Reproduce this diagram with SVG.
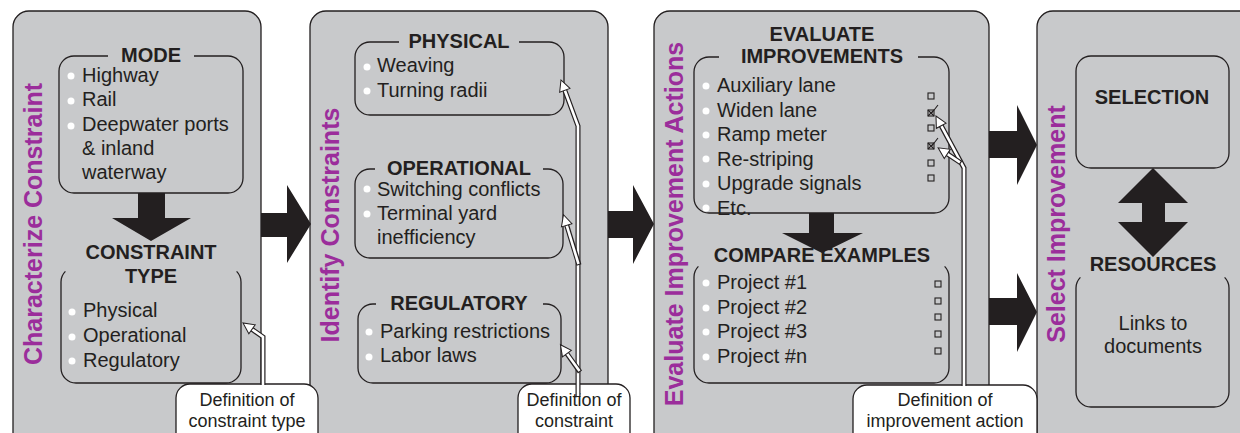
<svg xmlns="http://www.w3.org/2000/svg" width="1240" height="433" viewBox="0 0 1240 433">
<defs>
<style>
.panel{fill:#c8c9cb;stroke:#231f20;stroke-width:1.3}
.box{fill:none;stroke:#231f20;stroke-width:1.3}
.big{fill:#231f20}
.title{font-family:"Liberation Sans",Arial,sans-serif;font-size:25px;font-weight:bold;fill:#9b2d9b;text-anchor:middle}
.hd{font-family:"Liberation Sans",Arial,sans-serif;font-size:20px;font-weight:bold;fill:#231f20;text-anchor:middle}
.it{font-family:"Liberation Sans",Arial,sans-serif;font-size:20px;fill:#231f20}
.itc{font-family:"Liberation Sans",Arial,sans-serif;font-size:20px;fill:#231f20;text-anchor:middle}
.co{fill:#ffffff;stroke:#231f20;stroke-width:1.3}
.cot{font-family:"Liberation Sans",Arial,sans-serif;font-size:18px;fill:#231f20;text-anchor:middle}
.dot{fill:#ffffff}
.cb{fill:none;stroke:#231f20;stroke-width:1.1}
.cout{fill:none;stroke:#231f20;stroke-width:5;stroke-linejoin:miter}
.cin{fill:none;stroke:#ffffff;stroke-width:2.6;stroke-linejoin:miter}
</style>
<marker id="hollow" markerWidth="16" markerHeight="14" refX="0" refY="6" orient="auto" markerUnits="userSpaceOnUse" viewBox="-2 0 16 12" overflow="visible">
<path d="M0,0.5 L11,6 L0,11.5 Z" fill="#ffffff" stroke="#231f20" stroke-width="1"/>
</marker>
</defs>
<rect width="1240" height="433" fill="#ffffff"/>

<!-- Panel 1 -->
<g id="panel-characterize">
<rect class="panel" x="13" y="11" width="248" height="440" rx="16"/>
<text class="title" transform="translate(42,224) rotate(-90)">Characterize Constraint</text>
</g>
<g id="panel-identify">
<rect class="panel" x="310" y="11" width="298" height="440" rx="16"/>
<text class="title" transform="translate(339,225) rotate(-90)">Identify Constraints</text>
</g>
<g id="panel-evaluate">
<rect class="panel" x="654" y="11" width="335" height="440" rx="16"/>
<text class="title" transform="translate(683,224) rotate(-90)">Evaluate Improvement Actions</text>
</g>
<g id="panel-select">
<rect class="panel" x="1037" y="11" width="220" height="440" rx="16"/>
<text class="title" transform="translate(1065,224) rotate(-90)">Select Improvement</text>
</g>

<!-- MODE -->
<g id="mode">
<path class="box" d="M108,56 L74,56 A15,15 0 0 0 59,71 L59,178 A15,15 0 0 0 74,193 L228,193 A15,15 0 0 0 243,178 L243,71 A15,15 0 0 0 228,56 L194,56"/>
<text class="hd" x="151" y="62">MODE</text>
<circle class="dot" cx="71" cy="76" r="3.5"/>
<circle class="dot" cx="71" cy="101" r="3.5"/>
<circle class="dot" cx="71" cy="126" r="3.5"/>
<text class="it" x="82" y="82">Highway</text>
<text class="it" x="82" y="106">Rail</text>
<text class="it" x="82" y="131">Deepwater ports</text>
<text class="it" x="82" y="155">&amp; inland</text>
<text class="it" x="82" y="179">waterway</text>
</g>

<g id="constraint-type">
<path class="box" d="M65.4,271.4 A15,15 0 0 0 61,282 L61,368 A15,15 0 0 0 76,383 L226,383 A15,15 0 0 0 241,368 L241,282 A15,15 0 0 0 236.6,271.4"/>
<text class="hd" x="151" y="259">CONSTRAINT</text>
<text class="hd" x="151" y="283">TYPE</text>
<circle class="dot" cx="72" cy="312" r="3.5"/>
<circle class="dot" cx="72" cy="337" r="3.5"/>
<circle class="dot" cx="72" cy="361" r="3.5"/>
<text class="it" x="83" y="317">Physical</text>
<text class="it" x="83" y="342">Operational</text>
<text class="it" x="83" y="367">Regulatory</text>
</g>

<g id="physical">
<path class="box" d="M399,42 L370,42 A15,15 0 0 0 355,57 L355,100 A15,15 0 0 0 370,115 L549,115 A15,15 0 0 0 564,100 L564,57 A15,15 0 0 0 549,42 L519,42"/>
<text class="hd" x="459" y="48">PHYSICAL</text>
<circle class="dot" cx="367" cy="67" r="3.5"/>
<circle class="dot" cx="367" cy="91" r="3.5"/>
<text class="it" x="377" y="72">Weaving</text>
<text class="it" x="377" y="97">Turning radii</text>
</g>

<g id="operational">
<path class="box" d="M375,169 L370,169 A15,15 0 0 0 355,184 L355,243 A15,15 0 0 0 370,258 L548,258 A15,15 0 0 0 563,243 L563,184 A15,15 0 0 0 548,169 L543,169"/>
<text class="hd" x="459" y="175">OPERATIONAL</text>
<circle class="dot" cx="367" cy="189" r="3.5"/>
<circle class="dot" cx="367" cy="214" r="3.5"/>
<text class="it" x="377" y="196">Switching conflicts</text>
<text class="it" x="377" y="220">Terminal yard</text>
<text class="it" x="377" y="244">inefficiency</text>
</g>

<g id="regulatory">
<path class="box" d="M376,304 L373,304 A15,15 0 0 0 358,319 L358,368 A15,15 0 0 0 373,383 L546,383 A15,15 0 0 0 561,368 L561,319 A15,15 0 0 0 546,304 L543,304"/>
<text class="hd" x="459" y="310">REGULATORY</text>
<circle class="dot" cx="369" cy="332" r="3.5"/>
<circle class="dot" cx="369" cy="357" r="3.5"/>
<text class="it" x="380" y="338">Parking restrictions</text>
<text class="it" x="380" y="362">Labor laws</text>
</g>

<g id="evaluate-improvements">
<path class="box" d="M719,57 L709,57 A15,15 0 0 0 694,72 L694,198 A15,15 0 0 0 709,213 L934,213 A15,15 0 0 0 949,198 L949,72 A15,15 0 0 0 934,57 L918,57"/>
<text class="hd" x="822" y="41">EVALUATE</text>
<text class="hd" x="822" y="63">IMPROVEMENTS</text>
<circle class="dot" cx="706" cy="86" r="3.5"/>
<circle class="dot" cx="706" cy="111" r="3.5"/>
<circle class="dot" cx="706" cy="135" r="3.5"/>
<circle class="dot" cx="706" cy="159" r="3.5"/>
<circle class="dot" cx="706" cy="184" r="3.5"/>
<circle class="dot" cx="706" cy="208" r="3.5"/>
<text class="it" x="717" y="92">Auxiliary lane</text>
<text class="it" x="717" y="117">Widen lane</text>
<text class="it" x="717" y="141">Ramp meter</text>
<text class="it" x="717" y="166">Re-striping</text>
<text class="it" x="717" y="190">Upgrade signals</text>
<text class="it" x="717" y="215">Etc.</text>
<rect class="cb" x="928" y="93" width="6" height="6"/>
<rect class="cb" x="928" y="110" width="6" height="6"/>
<rect class="cb" x="928" y="125" width="6" height="6"/>
<rect class="cb" x="928" y="143" width="6" height="6"/>
<rect class="cb" x="928" y="160" width="6" height="6"/>
<rect class="cb" x="928" y="175" width="6" height="6"/>
<path class="cb" d="M928,110 L934,116 M928,116 L934,110 M931,114 L938,105 M928,143 L934,149 M928,149 L934,143 M931,147 L938,138"/>
</g>

<g id="compare-examples">
<path class="box" d="M698.4,266.4 A15,15 0 0 0 694,277 L694,368 A15,15 0 0 0 709,383 L934,383 A15,15 0 0 0 949,368 L949,277 A15,15 0 0 0 944.6,266.4"/>
<text class="hd" x="822" y="262">COMPARE EXAMPLES</text>
<circle class="dot" cx="706" cy="283" r="3.5"/>
<circle class="dot" cx="706" cy="308" r="3.5"/>
<circle class="dot" cx="706" cy="332" r="3.5"/>
<circle class="dot" cx="706" cy="357" r="3.5"/>
<text class="it" x="717" y="289">Project #1</text>
<text class="it" x="717" y="314">Project #2</text>
<text class="it" x="717" y="338">Project #3</text>
<text class="it" x="717" y="363">Project #n</text>
<rect class="cb" x="935" y="281" width="6" height="6"/>
<rect class="cb" x="935" y="298" width="6" height="6"/>
<rect class="cb" x="935" y="314" width="6" height="6"/>
<rect class="cb" x="935" y="331" width="6" height="6"/>
<rect class="cb" x="935" y="348" width="6" height="6"/>
</g>

<g id="selection">
<rect class="box" x="1076" y="56" width="153" height="112" rx="15"/>
<text class="hd" x="1152" y="104">SELECTION</text>
</g>

<g id="resources">
<path class="box" d="M1080.4,277.4 A15,15 0 0 0 1076,288 L1076,392 A15,15 0 0 0 1091,407 L1214,407 A15,15 0 0 0 1229,392 L1229,288 A15,15 0 0 0 1224.6,277.4"/>
<text class="hd" x="1153" y="271">RESOURCES</text>
<text class="itc" x="1153" y="330">Links to</text>
<text class="itc" x="1153" y="353">documents</text>
</g>

<!-- big flow arrows -->
<g id="flow-arrows">
<path class="big" d="M261,213 L287,213 L287,185 L311,224 L287,263 L287,237 L261,237 Z"/>
<path class="big" d="M608,211 L633,211 L633,185 L654,224 L633,264 L633,238 L608,238 Z"/>
<path class="big" d="M989,131 L1017,131 L1017,105 L1037,145 L1017,185 L1017,158 L989,158 Z"/>
<path class="big" d="M989,298 L1017,298 L1017,273 L1037,312 L1017,352 L1017,325 L989,325 Z"/>
<path class="big" d="M138,193 L165,193 L165,218 L191,218 L151,241 L112,218 L138,218 Z"/>
<path class="big" d="M809,213 L834,213 L834,233 L863,233 L822,253 L782,233 L809,233 Z"/>
<path class="big" d="M1153,168 L1188,203 L1165,203 L1165,222 L1188,222 L1153,257 L1118,222 L1142,222 L1142,203 L1118,203 Z"/>
</g>

<!-- callouts -->
<g id="callout-type">
<rect class="co" x="176" y="384" width="142" height="70" rx="14"/>
<text class="cot" x="247" y="406">Definition of</text>
<text class="cot" x="247" y="427">constraint type</text>
</g>
<g id="callout-constraint">
<rect class="co" x="518" y="384" width="112" height="70" rx="14"/>
<text class="cot" x="574" y="406">Definition of</text>
<text class="cot" x="574" y="427">constraint</text>
</g>
<g id="callout-action">
<rect class="co" x="853" y="385" width="184" height="70" rx="14"/>
<text class="cot" x="945" y="406">Definition of</text>
<text class="cot" x="945" y="427">improvement action</text>
</g>

<!-- connectors -->
<g id="connectors">
<path class="cout" d="M263,385 L263,337 L252,329.3"/>
<path class="cin" d="M263,386 L263,337 L252,329.3" marker-end="url(#hollow)"/>
<path class="cout" d="M578,397 L578,126 L564.8,90.3"/>
<path class="cin" d="M578,396 L578,126 L564.8,90.3" marker-end="url(#hollow)"/>
<path class="cout" d="M579,265 L566.7,225.3"/>
<path class="cin" d="M578.5,264 L566.7,225.3" marker-end="url(#hollow)"/>
<path class="cout" d="M580,372 L566.9,353.6"/>
<path class="cin" d="M579.5,371 L566.9,353.6" marker-end="url(#hollow)"/>
<path class="cout" d="M964,386 L964,168 L941.2,125.7"/>
<path class="cin" d="M964,387 L964,168 L941.2,125.7" marker-end="url(#hollow)"/>
<path class="cout" d="M961,163 L947.3,153.9"/>
<path class="cin" d="M960,162.3 L947.3,153.9" marker-end="url(#hollow)"/>
</g>
</svg>
